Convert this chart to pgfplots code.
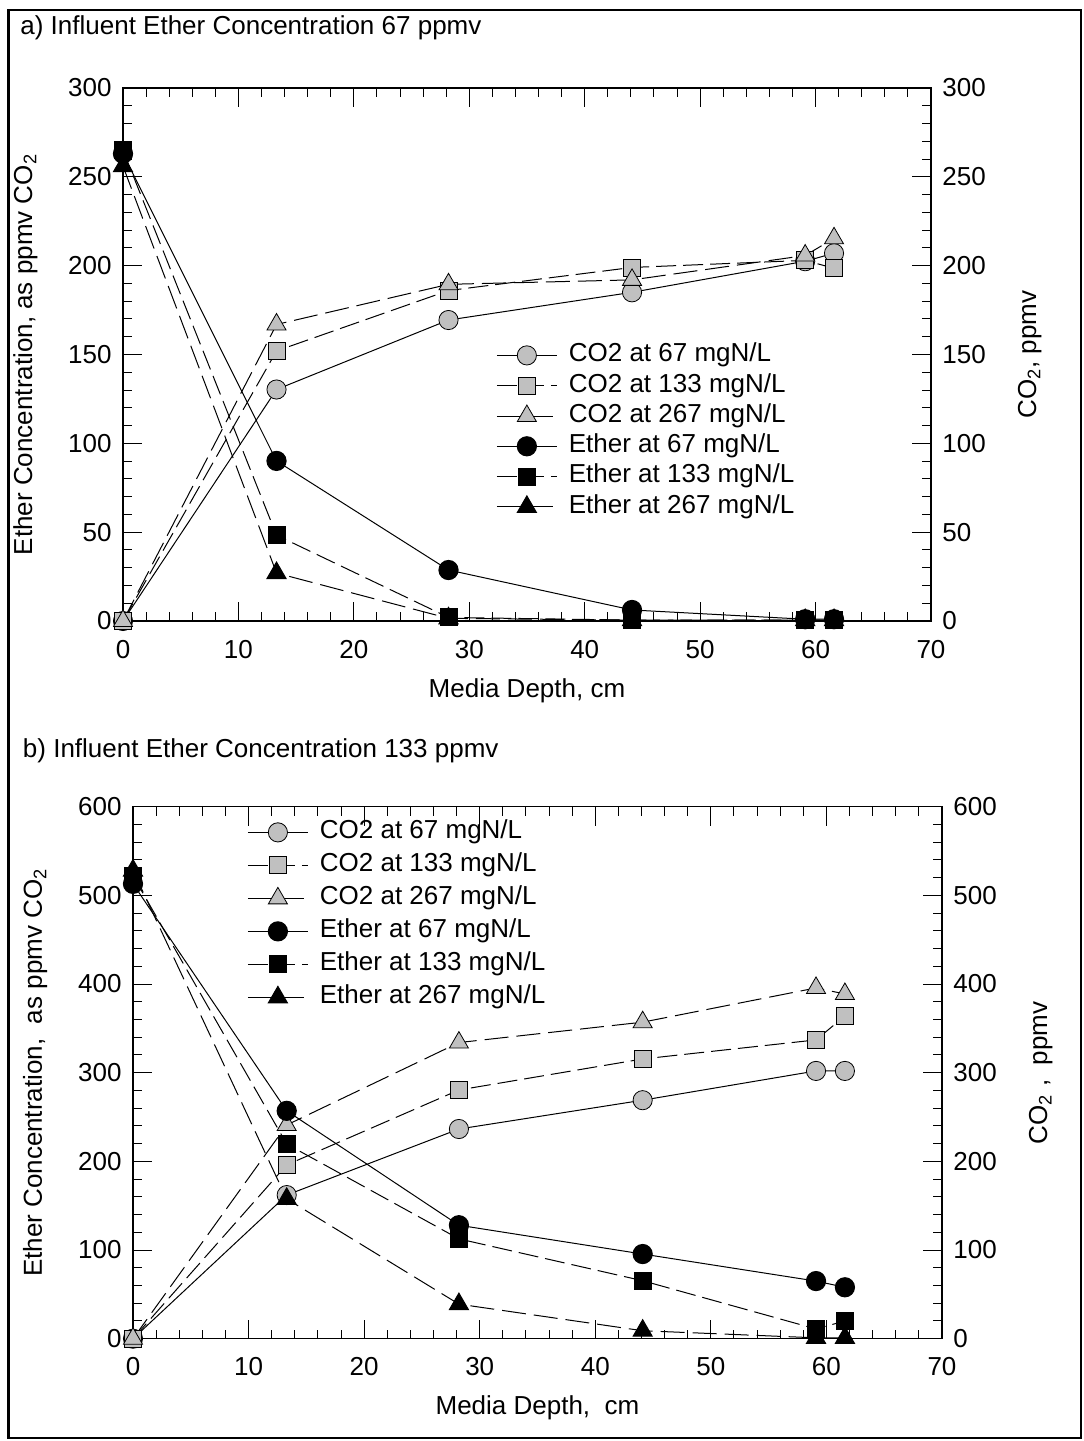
\documentclass[border=0pt]{standalone}
\usepackage{pgfplots}
\usepackage{pgfplotstable}
\pgfplotsset{compat=1.18}
\usepackage{fontspec}
\setmainfont{Liberation Sans}
\definecolor{mkgray}{RGB}{192,192,192}

\pgfplotstableread{
x co67 co133 co267 et67 et133 et267
0 0 0 0 263 265 256
13.3 130.3 152 166.9 90.1 48.3 27
28.2 169.4 186 189.5 28.7 2 1.5
44.1 185 199 192 6.2 0.5 0.5
59.1 202.5 203 205.7 1 0.5 0.5
61.6 207 198.5 215.4 1 0.5 0.5
}\dataA

\pgfplotstableread{
x co67 co133 co267 et67 et133 et267
0 0 0 0 513 522 528
13.3 162 196 241 257 219.6 157.7
28.2 236.5 280.5 334 128 112.6 39
44.1 269 315.5 357 95.5 65.4 9
59.1 302 337 395.6 65 11 1
61.6 302 364 388.8 58 20 1
}\dataB

\pgfplotsset{
  base/.style={
    scale only axis, clip=false,
    xmin=0, xmax=70, xtick={0,10,...,70}, minor x tick num=4,
    tick align=inside,
    major tick length=9.5pt, minor tick length=4.5pt,
    axis line style={line width=0.6pt},
    tick style={black, line width=0.5pt},
    /pgf/number format/assume math mode=true,
    ticklabel style={font=\fontsize{13pt}{15pt}\selectfont},
    xticklabel style={yshift=-6pt},
    label style={font=\fontsize{13pt}{15pt}\selectfont},
  },
  main/.style={base, tick pos=both,
    yticklabel style={xshift=-2.2pt},
    xlabel style={at={(axis description cs:0.5,-0.1426)}, anchor=base},
    ylabel style={at={(axis description cs:-0.1126,0.5)}, anchor=base},
    legend cell align=left,
    legend image code/.code={
      \draw[mark repeat=2,mark phase=2,##1] plot coordinates {(0pt,0pt) (15pt,0pt) (30pt,0pt)};
    },
  },
  right/.style={base, hide x axis, axis y line*=right,
    ytick style={draw=none}, axis line style={draw=none},
    yticklabel style={xshift=2.2pt},
    ylabel style={at={(axis description cs:1.13,0.5)}, anchor=base, rotate=0},
  },
  co67/.style={black, line width=0.5pt, solid, mark=*, mark size=4.8pt,
    mark options={fill=mkgray, draw=black, line width=0.4pt, solid}},
  co133/.style={black, line width=0.5pt, dash pattern=on 10pt off 3.5pt, mark=square*, mark size=4.25pt,
    mark options={fill=mkgray, draw=black, line width=0.4pt, solid}},
  co267/.style={black, line width=0.5pt, dash pattern=on 12pt off 4pt, mark=triangle*, mark size=5.5pt,
    mark options={fill=mkgray, draw=black, line width=0.4pt, solid}},
  et67/.style={black, line width=0.5pt, solid, mark=*, mark size=4.8pt,
    mark options={fill=black, draw=black, solid}},
  et133/.style={black, line width=0.5pt, dash pattern=on 10pt off 3.5pt, mark=square*, mark size=4.25pt,
    mark options={fill=black, draw=black, solid}},
  et267/.style={black, line width=0.5pt, dash pattern=on 12pt off 4pt, mark=triangle*, mark size=5.5pt,
    mark options={fill=black, draw=black, solid}},
}

\begin{document}
\begin{tikzpicture}
\useasboundingbox (0,0) rectangle (541.5pt,-720.5pt);
\draw[line width=1.3pt] (4.2pt,-5pt) rectangle (540.5pt,-719pt);
\node[anchor=base west, inner sep=0pt, font=\fontsize{13pt}{15pt}\selectfont] at (10pt,-17pt) {a) Influent Ether Concentration 67 ppmv};
\node[anchor=base west, inner sep=0pt, font=\fontsize{13pt}{15pt}\selectfont] at (11.3pt,-378.5pt) {b) Influent Ether Concentration 133 ppmv};

% ---------- panel a ----------
\begin{axis}[main, at={(61.5pt,-44pt)}, anchor=north west, width=404pt, height=266.5pt,
  ymin=0, ymax=300, ytick={0,50,...,300}, minor y tick num=4,
  xlabel={Media Depth, cm},
  ylabel={Ether Concentration, as ppmv CO\textsubscript{2}},
  legend style={draw=none, fill=none, at={(0.4616,0.5275)}, anchor=north west,
    inner sep=0pt, row sep=0pt, column sep=4.5pt,
    font=\fontsize{13pt}{15pt}\selectfont,
    nodes={inner sep=1.25pt, text height=9.5pt, text depth=3.15pt}},
]
\addplot[co67] table[x=x, y=co67] {\dataA};
\addplot[co133] table[x=x, y=co133] {\dataA};
\addplot[co267] table[x=x, y=co267] {\dataA};
\addplot[et67] table[x=x, y=et67] {\dataA};
\addplot[et133] table[x=x, y=et133] {\dataA};
\addplot[et267] table[x=x, y=et267] {\dataA};
\legend{CO2 at 67 mgN/L, CO2 at 133 mgN/L, CO2 at 267 mgN/L, Ether at 67 mgN/L, Ether at 133 mgN/L, Ether at 267 mgN/L}
\end{axis}
\begin{axis}[right, at={(61.5pt,-44pt)}, anchor=north west, width=404pt, height=266.5pt,
  ymin=0, ymax=300, ytick={0,50,...,300},
  ylabel={CO\textsubscript{2}, ppmv}]
\end{axis}

% ---------- panel b ----------
\begin{axis}[main, at={(66.5pt,-403.35pt)}, anchor=north west, width=404.5pt, height=266pt,
  ymin=0, ymax=600, ytick={0,100,...,600}, minor y tick num=4,
  xlabel={Media Depth,\ \ cm},
  ylabel={Ether Concentration,\ \ as ppmv CO\textsubscript{2}},
  legend style={draw=none, fill=none, at={(0.1409,0.981)}, anchor=north west,
    inner sep=0pt, row sep=1.35pt, column sep=4.5pt,
    font=\fontsize{13pt}{15pt}\selectfont,
    nodes={inner sep=1.25pt, text height=9.5pt, text depth=3.15pt}},
]
\addplot[co67] table[x=x, y=co67] {\dataB};
\addplot[co133] table[x=x, y=co133] {\dataB};
\addplot[co267] table[x=x, y=co267] {\dataB};
\addplot[et67] table[x=x, y=et67] {\dataB};
\addplot[et133] table[x=x, y=et133] {\dataB};
\addplot[et267] table[x=x, y=et267] {\dataB};
\legend{CO2 at 67 mgN/L, CO2 at 133 mgN/L, CO2 at 267 mgN/L, Ether at 67 mgN/L, Ether at 133 mgN/L, Ether at 267 mgN/L}
\end{axis}
\begin{axis}[right, at={(66.5pt,-403.35pt)}, anchor=north west, width=404.5pt, height=266pt,
  ymin=0, ymax=600, ytick={0,100,...,600},
  ylabel={CO\textsubscript{2} ,\ \ ppmv}]
\end{axis}
\end{tikzpicture}
\end{document}
